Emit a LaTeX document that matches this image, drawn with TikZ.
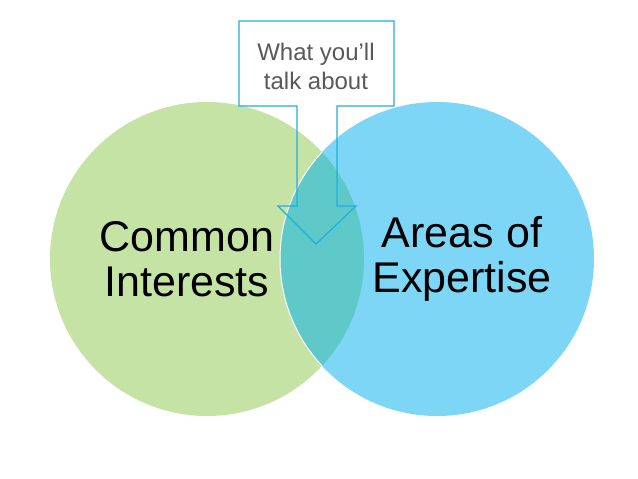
\documentclass[tikz,border=0pt]{standalone}
\usepackage{fontspec}
\setmainfont{Liberation Sans}
\definecolor{cgreen}{HTML}{C6E3A6}
\definecolor{cblue}{HTML}{7DD6F6}
\definecolor{cteal}{HTML}{5FC8C8}
\definecolor{cline}{HTML}{1FB0DC}
\definecolor{cgray}{HTML}{595959}
\tikzset{
  bigtext/.style={font=\fontsize{43}{45}\selectfont, text=black, align=center, inner sep=0pt},
  calltext/.style={font=\fontsize{24}{29}\selectfont, text=cgray, align=center, inner sep=0pt},
  callout/.style={draw=cline, line width=1.2pt, line join=miter}
}
\begin{document}
\begin{tikzpicture}[x=1pt,y=-1pt]
\useasboundingbox (0,0) rectangle (638,479);
\fill[white] (0,0) rectangle (638,479);
% circles
\fill[cgreen] (207,259) circle (157);
\fill[cblue] (437,259) circle (157);
\begin{scope}
  \clip (207,259) circle (157);
  \fill[cteal] (437,259) circle (157);
  \draw[white, line width=1pt] (437,259) circle (157);
\end{scope}
% labels
\node[bigtext] (ci) at (187,259) {Common\\Interests};
\node[bigtext] (ae) at (462,259) {Areas of\\Expertise};
% callout
\fill[white] (239,21) rectangle (394,106);
\draw[callout] (239,21) -- (394,21) -- (394,106) -- (337,106) -- (337,206) -- (356,206) -- (316,244) -- (278,206) -- (297,206) -- (297,106) -- (239,106) -- cycle;
\node[calltext] (wt) at (316,66) {What you’ll\\talk about};
\end{tikzpicture}
\end{document}
